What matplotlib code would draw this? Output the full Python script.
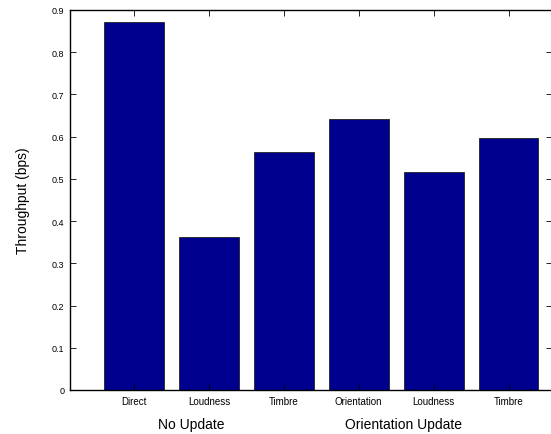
import numpy as np
import matplotlib
matplotlib.use("Agg")
import matplotlib.pyplot as plt

# bar data
categories = ["Direct", "Loudness", "Timbre", "Orientation", "Loudness", "Timbre"]
throughput = [0.872, 0.363, 0.564, 0.641, 0.516, 0.596]
group_labels = ["No Update", "Orientation Update"]
group_x = [1.77, 4.6]
y_ticks = [0, 0.1, 0.2, 0.3, 0.4, 0.5, 0.6, 0.7, 0.8, 0.9]

plt.rcParams['font.family'] = ['Liberation Sans', 'DejaVu Sans']

fig = plt.figure(figsize=(5.51, 4.35), dpi=100)
ax = fig.add_axes([70/551, 44/435, 481.5/551, 380/435])

x = np.arange(1, len(categories) + 1)
ax.bar(x, throughput, width=0.8, color='#00008F', edgecolor='#222222', linewidth=0.6)

ax.set_xlim(0.1455, 6.574)
ax.set_ylim(0, 0.9)
ax.set_xticks(x)
ax.set_xticklabels(categories, fontsize=7)
ax.set_yticks(y_ticks)
ax.set_yticklabels([f"{t:g}" for t in y_ticks], fontsize=6.5)
ax.tick_params(direction='in', length=4, width=0.6, top=True, right=True, pad=4)
for s in ax.spines.values():
    s.set_linewidth(1.0)

ax.set_ylabel("Throughput (bps)", fontsize=10, labelpad=16)

# group captions under the category labels
for gx, gl in zip(group_x, group_labels):
    ax.annotate(gl, xy=(gx, 0), xycoords=('data', 'axes fraction'),
                xytext=(0, -24.5), textcoords='offset points',
                ha='center', va='center', fontsize=10)

fig.savefig("out.png", dpi=100)
